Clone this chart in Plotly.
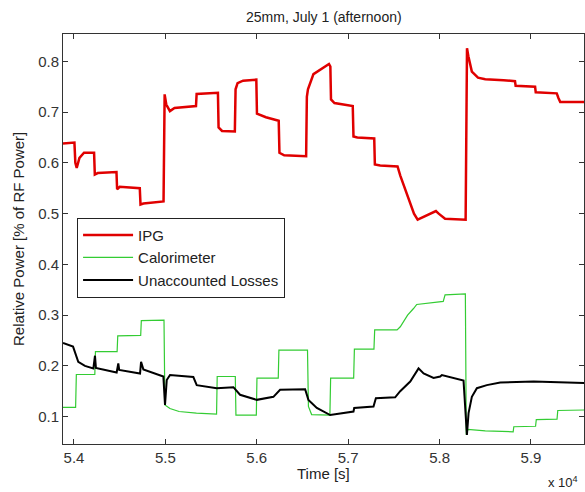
import plotly.graph_objects as go

# ---------------- data ----------------
ipg_t = [53880, 54005, 54015, 54030, 54060, 54110, 54220, 54228, 54260, 54465,
         54472, 54500, 54720, 54728, 54760, 54980, 54992, 55010, 55050, 55100,
         55335, 55342, 55575, 55582, 55620, 55760, 55768, 55790, 55850, 55995,
         56002, 56100, 56240, 56248, 56300, 56540, 56548, 56560, 56620, 56700,
         56790, 56805, 56812, 56850, 57050, 57058, 57100, 57285, 57292, 57350,
         57540, 57570, 57650, 57720, 57760, 57850, 57960, 57990, 58060, 58285,
         58300, 58315, 58353, 58420, 58500, 58700, 58825, 58832, 59045, 59052,
         59282, 59300, 59320, 59580]
ipg_v = [0.638, 0.640, 0.600, 0.590, 0.610, 0.620, 0.620, 0.577, 0.580, 0.582,
         0.548, 0.553, 0.550, 0.518, 0.520, 0.524, 0.735, 0.715, 0.702, 0.708,
         0.712, 0.736, 0.738, 0.670, 0.663, 0.662, 0.745, 0.757, 0.762, 0.764,
         0.697, 0.690, 0.683, 0.620, 0.615, 0.613, 0.730, 0.745, 0.775, 0.785,
         0.795, 0.790, 0.725, 0.718, 0.712, 0.652, 0.650, 0.648, 0.597, 0.595,
         0.593, 0.575, 0.535, 0.500, 0.488, 0.496, 0.505, 0.500, 0.490, 0.488,
         0.826, 0.810, 0.780, 0.768, 0.765, 0.763, 0.761, 0.752, 0.750, 0.739,
         0.737, 0.728, 0.720, 0.720]

cal_t = [53880, 54018, 54026, 54228, 54235, 54472, 54479, 54730, 54737, 54985,
         54995, 55050, 55150, 55340, 55560, 55567, 55765, 55772, 55995, 56002,
         56235, 56242, 56555, 56565, 56600, 56800, 56808, 57060, 57068, 57282,
         57290, 57535, 57570, 57650, 57715, 57750, 58040, 58060, 58282, 58292,
         58310, 58500, 58805, 58812, 59050, 59058, 59285, 59293, 59580]
cal_v = [0.118, 0.118, 0.183, 0.183, 0.228, 0.228, 0.259, 0.260, 0.289, 0.290,
         0.123, 0.116, 0.110, 0.107, 0.105, 0.179, 0.179, 0.103, 0.103, 0.176,
         0.176, 0.231, 0.231, 0.120, 0.104, 0.103, 0.176, 0.176, 0.233, 0.233,
         0.271, 0.271, 0.277, 0.300, 0.313, 0.321, 0.327, 0.340, 0.342, 0.064,
         0.075, 0.072, 0.070, 0.080, 0.081, 0.094, 0.095, 0.112, 0.113]

unc_t = [53880, 53990, 54047, 54120, 54212, 54230, 54240, 54467, 54485, 54495,
         54723, 54734, 54759, 54978, 54996, 55015, 55051, 55306, 55343, 55562,
         55744, 55817, 56000, 56182, 56255, 56529, 56565, 56657, 56803, 56949,
         57058, 57066, 57277, 57303, 57514, 57569, 57679, 57770, 57825, 57934,
         58007, 58025, 58262, 58299, 58317, 58353, 58408, 58517, 58664, 59029,
         59580]
unc_v = [0.245, 0.238, 0.208, 0.200, 0.195, 0.220, 0.196, 0.187, 0.205, 0.192,
         0.185, 0.208, 0.193, 0.179, 0.123, 0.172, 0.182, 0.178, 0.162, 0.156,
         0.158, 0.143, 0.133, 0.139, 0.153, 0.154, 0.133, 0.117, 0.103, 0.107,
         0.110, 0.117, 0.120, 0.136, 0.138, 0.150, 0.169, 0.195, 0.185, 0.176,
         0.179, 0.182, 0.171, 0.064, 0.107, 0.139, 0.156, 0.162, 0.167, 0.169,
         0.166]

x_tick_vals = [54000, 55000, 56000, 57000, 58000, 59000]
x_tick_text = ["5.4", "5.5", "5.6", "5.7", "5.8", "5.9"]
y_tick_vals = [0.1, 0.2, 0.3, 0.4, 0.5, 0.6, 0.7, 0.8]
y_tick_text = ["0.1", "0.2", "0.3", "0.4", "0.5", "0.6", "0.7", "0.8"]

series_names = ["IPG", "Calorimeter", "Unaccounted Losses"]

# ---------------- figure ----------------
FONT = "Liberation Sans, Arial, sans-serif"
fig = go.Figure()
fig.add_trace(go.Scatter(x=ipg_t, y=ipg_v, mode="lines", name=series_names[0],
                         legendgroup="a", line=dict(color="#e00000", width=2.5)))
fig.add_trace(go.Scatter(x=cal_t, y=cal_v, mode="lines", name=series_names[1],
                         legendgroup="b", line=dict(color="#33cc33", width=1.2)))
fig.add_trace(go.Scatter(x=unc_t, y=unc_v, mode="lines", name=series_names[2],
                         legendgroup="c", line=dict(color="#000000", width=2)))

axis_common = dict(showline=True, linecolor="#333333", linewidth=1, mirror="ticks",
                   ticks="inside", ticklen=5, tickcolor="#333333", showgrid=False,
                   zeroline=False, tickfont=dict(family=FONT, size=15, color="#333333"))

fig.update_layout(
    width=585, height=492,
    margin=dict(l=63, r=1, t=34, b=48),
    paper_bgcolor="white", plot_bgcolor="white",
    font=dict(family=FONT, size=15, color="#222222"),
    showlegend=True,
    legend=dict(x=0.027, y=0.552, xanchor="left", yanchor="top",
                bordercolor="#222222", borderwidth=1, bgcolor="white",
                font=dict(family=FONT, size=15, color="#222222"),
                tracegroupgap=0, itemwidth=50),
    xaxis=dict(range=[53880, 59580], tickvals=x_tick_vals, ticktext=x_tick_text,
               **axis_common),
    yaxis=dict(range=[0.046, 0.854], tickvals=y_tick_vals, ticktext=y_tick_text,
               **axis_common),
    annotations=[
        dict(text="25mm, July 1 (afternoon)", xref="paper", yref="paper",
             x=0.5, y=1, yshift=17, xanchor="center", yanchor="middle",
             showarrow=False, font=dict(family=FONT, size=14, color="#222222")),
        dict(text="Time [s]", xref="paper", yref="paper", x=0.5, y=0,
             yshift=-29, xanchor="center", yanchor="middle", showarrow=False,
             font=dict(family=FONT, size=15, color="#222222")),
        dict(text="Relative Power [% of RF Power]", xref="paper", yref="paper",
             x=0, y=0.5, xshift=-45, xanchor="center", yanchor="middle",
             textangle=-90, showarrow=False,
             font=dict(family=FONT, size=15, color="#222222")),
        dict(text="x 10<sup>4</sup>", xref="paper", yref="paper", x=1, y=0,
             xshift=-4, yshift=-38, xanchor="right", yanchor="middle",
             showarrow=False, font=dict(family=FONT, size=13, color="#222222")),
    ],
)

fig.write_html("out.html")
